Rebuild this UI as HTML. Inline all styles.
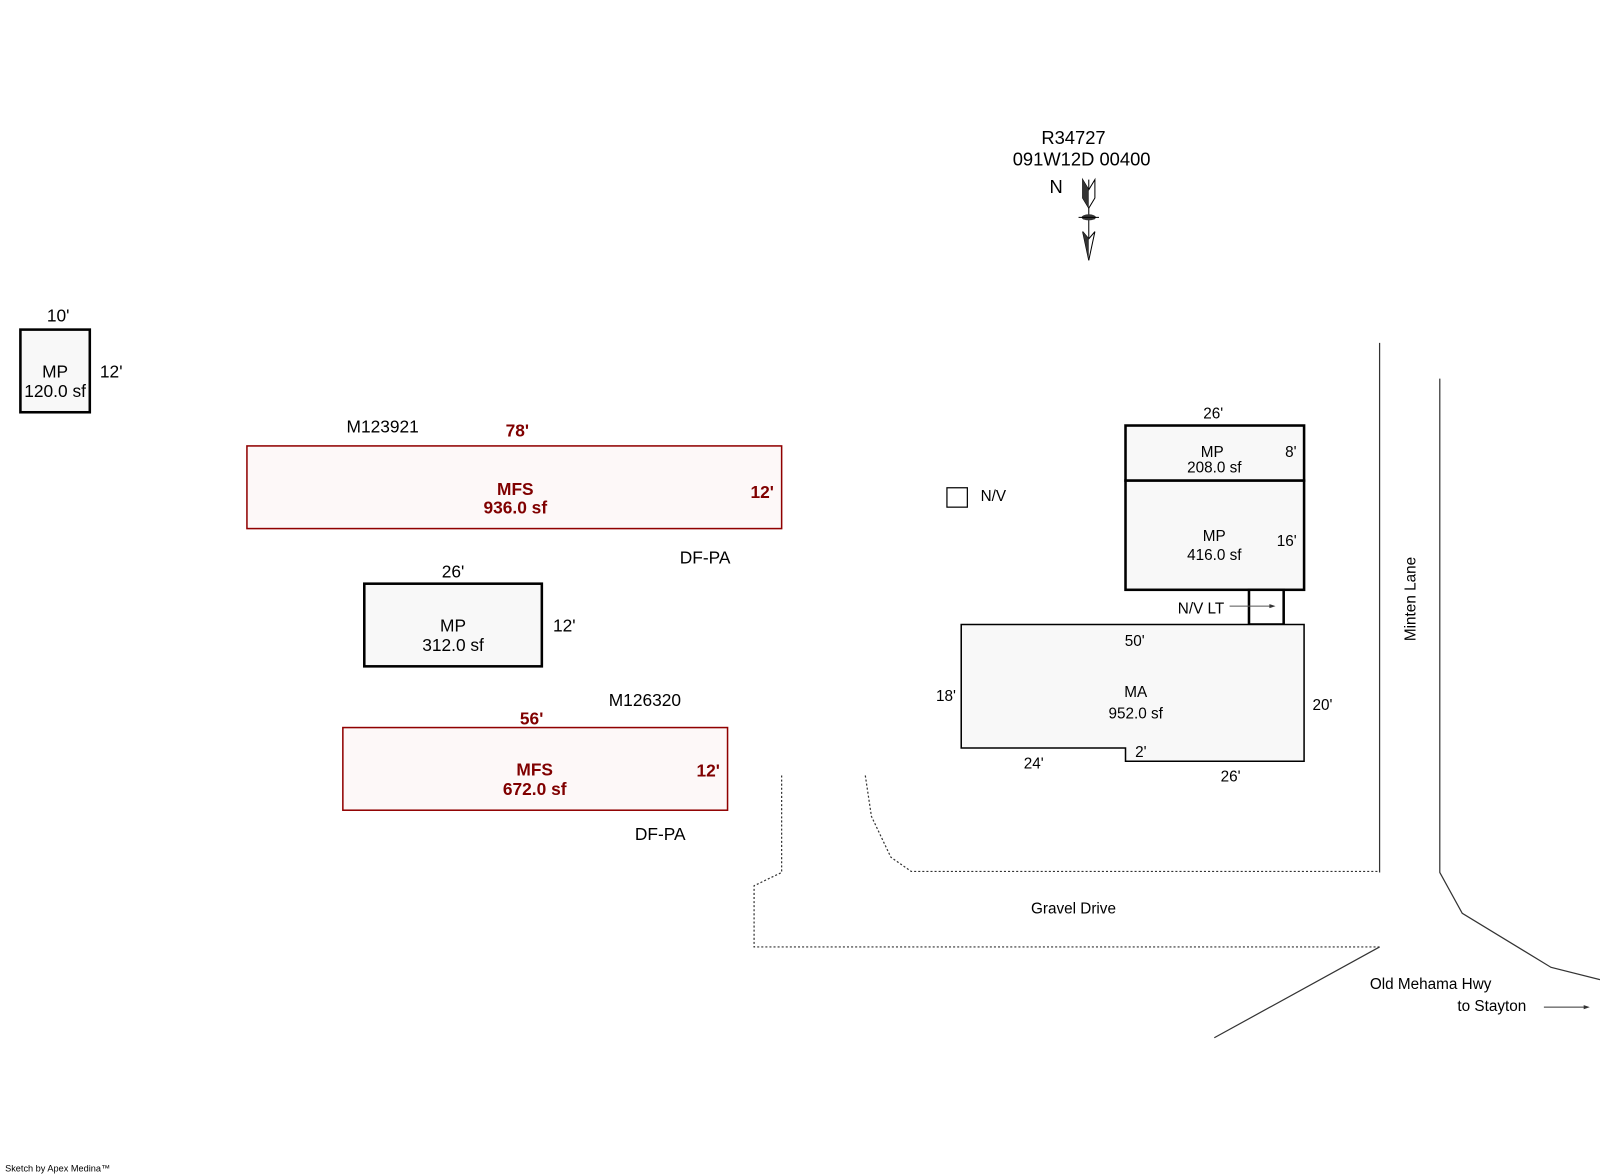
<!DOCTYPE html>
<html><head><style>
html,body{margin:0;padding:0;background:#fff;}
svg{display:block;}
text{font-family:"Liberation Sans",Arial,sans-serif;}
</style></head><body>
<svg width="1600" height="1174" viewBox="0 0 1568 1150.5" xmlns="http://www.w3.org/2000/svg">
<rect width="1568" height="1151" fill="#fff"/>
<!-- header -->
<text x="1052" y="141" font-size="18" text-anchor="middle">R34727</text>
<text x="1060" y="162" font-size="18" text-anchor="middle">091W12D 00400</text>
<text x="1035" y="189" font-size="18" text-anchor="middle">N</text>
<!-- north arrow -->
<line x1="1067" y1="176" x2="1067" y2="255" stroke="#000" stroke-width="1"/>
<polygon points="1061,176 1067,186 1073,176 1073,194 1067,204 1061,194" fill="#fff" stroke="#000"/>
<polygon points="1061,176 1067,186 1067,204 1061,194" fill="#333"/>
<ellipse cx="1067" cy="213" rx="7" ry="3" fill="#333"/>
<line x1="1057" y1="213" x2="1077" y2="213" stroke="#000"/>
<polygon points="1061,227 1067,234 1073,227 1067,255" fill="#fff" stroke="#000"/>
<polygon points="1061,227 1067,234 1067,255" fill="#333"/>
<!-- MP 120 -->
<rect x="20" y="323" width="68" height="81" fill="#f8f8f8" stroke="#000" stroke-width="2.5"/>
<text x="57" y="315" font-size="17" text-anchor="middle">10'</text>
<text x="109" y="370" font-size="17" text-anchor="middle">12'</text>
<text x="54" y="370" font-size="17" text-anchor="middle">MP</text>
<text x="54" y="389" font-size="17" text-anchor="middle">120.0 sf</text>
<!-- MFS 936 -->
<text x="375" y="424" font-size="17" text-anchor="middle">M123921</text>
<text x="507" y="428" font-size="17" font-weight="bold" fill="#800000" text-anchor="middle">78'</text>
<rect x="242" y="437" width="524" height="81" fill="#fdf8f8" stroke="#900000" stroke-width="1.5"/>
<text x="505" y="485" font-size="17" font-weight="bold" fill="#800000" text-anchor="middle">MFS</text>
<text x="505" y="503" font-size="17" font-weight="bold" fill="#800000" text-anchor="middle">936.0 sf</text>
<text x="747" y="488" font-size="17" font-weight="bold" fill="#800000" text-anchor="middle">12'</text>
<text x="691" y="552" font-size="17" text-anchor="middle">DF-PA</text>
<!-- MP 312 -->
<text x="444" y="566" font-size="17" text-anchor="middle">26'</text>
<rect x="357" y="572" width="174" height="81" fill="#f8f8f8" stroke="#000" stroke-width="2.5"/>
<text x="444" y="619" font-size="17" text-anchor="middle">MP</text>
<text x="444" y="638" font-size="17" text-anchor="middle">312.0 sf</text>
<text x="553" y="619" font-size="17" text-anchor="middle">12'</text>
<!-- MFS 672 -->
<text x="632" y="692" font-size="17" text-anchor="middle">M126320</text>
<text x="521" y="710" font-size="17" font-weight="bold" fill="#800000" text-anchor="middle">56'</text>
<rect x="336" y="713" width="377" height="81" fill="#fdf8f8" stroke="#900000" stroke-width="1.5"/>
<text x="524" y="760" font-size="17" font-weight="bold" fill="#800000" text-anchor="middle">MFS</text>
<text x="524" y="779" font-size="17" font-weight="bold" fill="#800000" text-anchor="middle">672.0 sf</text>
<text x="694" y="761" font-size="17" font-weight="bold" fill="#800000" text-anchor="middle">12'</text>
<text x="647" y="823" font-size="17" text-anchor="middle">DF-PA</text>
<!-- N/V -->
<rect x="928" y="478" width="20" height="19" fill="#fff" stroke="#000" stroke-width="1.2"/>
<text x="961" y="491" font-size="15">N/V</text>
<!-- right buildings -->
<text x="1189" y="410" font-size="15" text-anchor="middle">26'</text>
<rect x="1103" y="417" width="175" height="54" fill="#f8f8f8" stroke="#000" stroke-width="2.5"/>
<text x="1188" y="448" font-size="15" text-anchor="middle">MP</text>
<text x="1190" y="463" font-size="15" text-anchor="middle">208.0 sf</text>
<text x="1265" y="448" font-size="15" text-anchor="middle">8'</text>
<rect x="1103" y="471" width="175" height="107" fill="#f8f8f8" stroke="#000" stroke-width="2.5"/>
<text x="1190" y="530" font-size="15" text-anchor="middle">MP</text>
<text x="1190" y="549" font-size="15" text-anchor="middle">416.0 sf</text>
<text x="1261" y="535" font-size="15" text-anchor="middle">16'</text>
<rect x="1224" y="578" width="34" height="34" fill="#fff" stroke="#000" stroke-width="2.5"/>
<text x="1177" y="601" font-size="15" text-anchor="middle">N/V LT</text>
<line x1="1205" y1="594" x2="1248" y2="594" stroke="#555"/>
<polygon points="1250,594 1244,592 1244,596" fill="#333"/>
<polygon points="942,612 1278,612 1278,746 1103,746 1103,733 942,733" fill="#f8f8f8" stroke="#000" stroke-width="1.5"/>
<text x="1112" y="633" font-size="15" text-anchor="middle">50'</text>
<text x="1113" y="683" font-size="15" text-anchor="middle">MA</text>
<text x="1113" y="704" font-size="15" text-anchor="middle">952.0 sf</text>
<text x="927" y="687" font-size="15" text-anchor="middle">18'</text>
<text x="1296" y="696" font-size="15" text-anchor="middle">20'</text>
<text x="1013" y="753" font-size="15" text-anchor="middle">24'</text>
<text x="1118" y="742" font-size="15" text-anchor="middle">2'</text>
<text x="1206" y="766" font-size="15" text-anchor="middle">26'</text>
<!-- roads -->
<line x1="1352" y1="336" x2="1352" y2="855" stroke="#333" stroke-width="1.2"/>
<polyline points="1411,371 1411,855 1433,895 1520,948 1568,960" fill="none" stroke="#333" stroke-width="1.2"/>
<line x1="1352" y1="928" x2="1190" y2="1017" stroke="#333" stroke-width="1.2"/>
<text x="1387" y="587" font-size="15" text-anchor="middle" transform="rotate(-90 1387 587)">Minten Lane</text>
<g fill="none" stroke="#333" stroke-width="1.2" stroke-dasharray="2,2">
<polyline points="848,760 854,800 873,840 893,854 1352,854"/>
<polyline points="766,760 766,855 739,868 739,928 1352,928"/>
</g>
<text x="1052" y="895" font-size="15" text-anchor="middle">Gravel Drive</text>
<text x="1402" y="969" font-size="15" text-anchor="middle">Old Mehama Hwy</text>
<text x="1462" y="991" font-size="15" text-anchor="middle">to Stayton</text>
<line x1="1513" y1="987" x2="1556" y2="987" stroke="#333"/>
<polygon points="1558,987 1552,985 1552,989" fill="#333"/>
<text x="5" y="1148" font-size="9">Sketch by Apex Medina™</text>
</svg>
</body></html>
